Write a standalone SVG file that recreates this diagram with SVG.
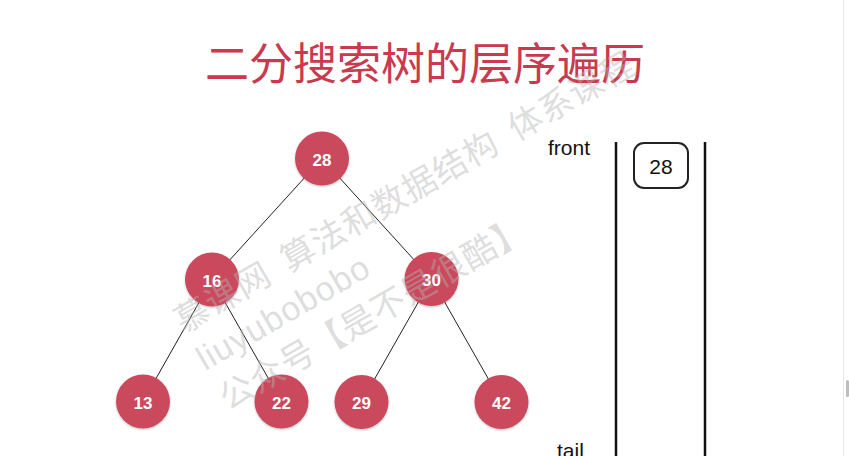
<svg xmlns="http://www.w3.org/2000/svg" width="849" height="456" viewBox="0 0 849 456">
  <style>
    .title { font-family: "Noto Sans CJK SC", "Liberation Sans", sans-serif; font-size: 44px; fill: #C93A4E; }
    .node circle { fill: #CA4A5C; filter: url(#sh); }
    .node text { font-family: "Liberation Sans", Arial, sans-serif; font-weight: bold; font-size: 17px; fill: #fff; text-anchor: middle; }
    .edge { stroke: #222; stroke-width: 1; fill: none; }
    .lbl { font-family: "Liberation Sans", Arial, sans-serif; font-size: 21px; fill: #111; }
    .qline { stroke: #111; stroke-width: 2.5; }
    .wm { font-family: "Liberation Sans", "Noto Sans CJK SC", sans-serif; font-size: 34px; fill: #b4b4b4; fill-opacity: 0.45; letter-spacing: 1px; }
  </style>
  <defs>
    <filter id="sh" x="-20%" y="-20%" width="140%" height="150%">
      <feDropShadow dx="0" dy="1" stdDeviation="1" flood-color="#000" flood-opacity="0.25"/>
    </filter>
  </defs>
  <rect width="849" height="456" fill="#fff"/>
  <text class="title" x="425" y="80" text-anchor="middle">二分搜索树的层序遍历</text>

  <g id="connectors">
    <line class="edge" x1="322" y1="158.5" x2="212" y2="279.5"/>
    <line class="edge" x1="322" y1="158.5" x2="431.5" y2="279"/>
    <line class="edge" x1="212" y1="279.5" x2="143" y2="401.5"/>
    <line class="edge" x1="212" y1="279.5" x2="281.5" y2="401.5"/>
    <line class="edge" x1="431.5" y1="279" x2="361.5" y2="402"/>
    <line class="edge" x1="431.5" y1="279" x2="501.5" y2="402"/>
  </g>

  <g id="n28" class="node"><circle cx="322" cy="158.5" r="27"/><text x="322" y="165.5">28</text></g>
  <g id="n16" class="node"><circle cx="212" cy="279.5" r="27"/><text x="212" y="286.5">16</text></g>
  <g id="n30" class="node"><circle cx="431.5" cy="279" r="27"/><text x="431.5" y="286">30</text></g>
  <g id="n13" class="node"><circle cx="143" cy="401.5" r="27"/><text x="143" y="408.5">13</text></g>
  <g id="n22" class="node"><circle cx="281.5" cy="401.5" r="27"/><text x="281.5" y="408.5">22</text></g>
  <g id="n29" class="node"><circle cx="361.5" cy="402" r="27"/><text x="361.5" y="409">29</text></g>
  <g id="n42" class="node"><circle cx="501.5" cy="402" r="27"/><text x="501.5" y="409">42</text></g>

  <g id="queue">
    <line class="qline" x1="616" y1="142" x2="616" y2="456"/>
    <line class="qline" x1="705" y1="142" x2="705" y2="456"/>
    <text class="lbl" x="548" y="155">front</text>
    <text class="lbl" x="557" y="458">tail</text>
  </g>
  <g id="q28">
    <rect x="634" y="143" width="54" height="45" rx="10" fill="#fff" stroke="#222" stroke-width="2"/>
    <text class="lbl" x="661" y="174" text-anchor="middle" font-size="22">28</text>
  </g>

  <g id="watermark" transform="translate(183.5,334) rotate(-30)">
    <text class="wm" x="0" y="0">慕课网 <tspan dx="7">算法和数据结构</tspan> <tspan dx="7">体系课程</tspan></text>
    <text class="wm" x="0" y="43" letter-spacing="0">liuyubobobo</text>
    <text class="wm" x="0" y="89">公众号【是不是很酷】</text>
  </g>

  <line x1="843.5" y1="0" x2="843.5" y2="456" stroke="#e6e6e6" stroke-width="1"/>
  <rect x="846" y="380" width="3" height="17" rx="1.5" fill="#bdbdbd"/>
</svg>
